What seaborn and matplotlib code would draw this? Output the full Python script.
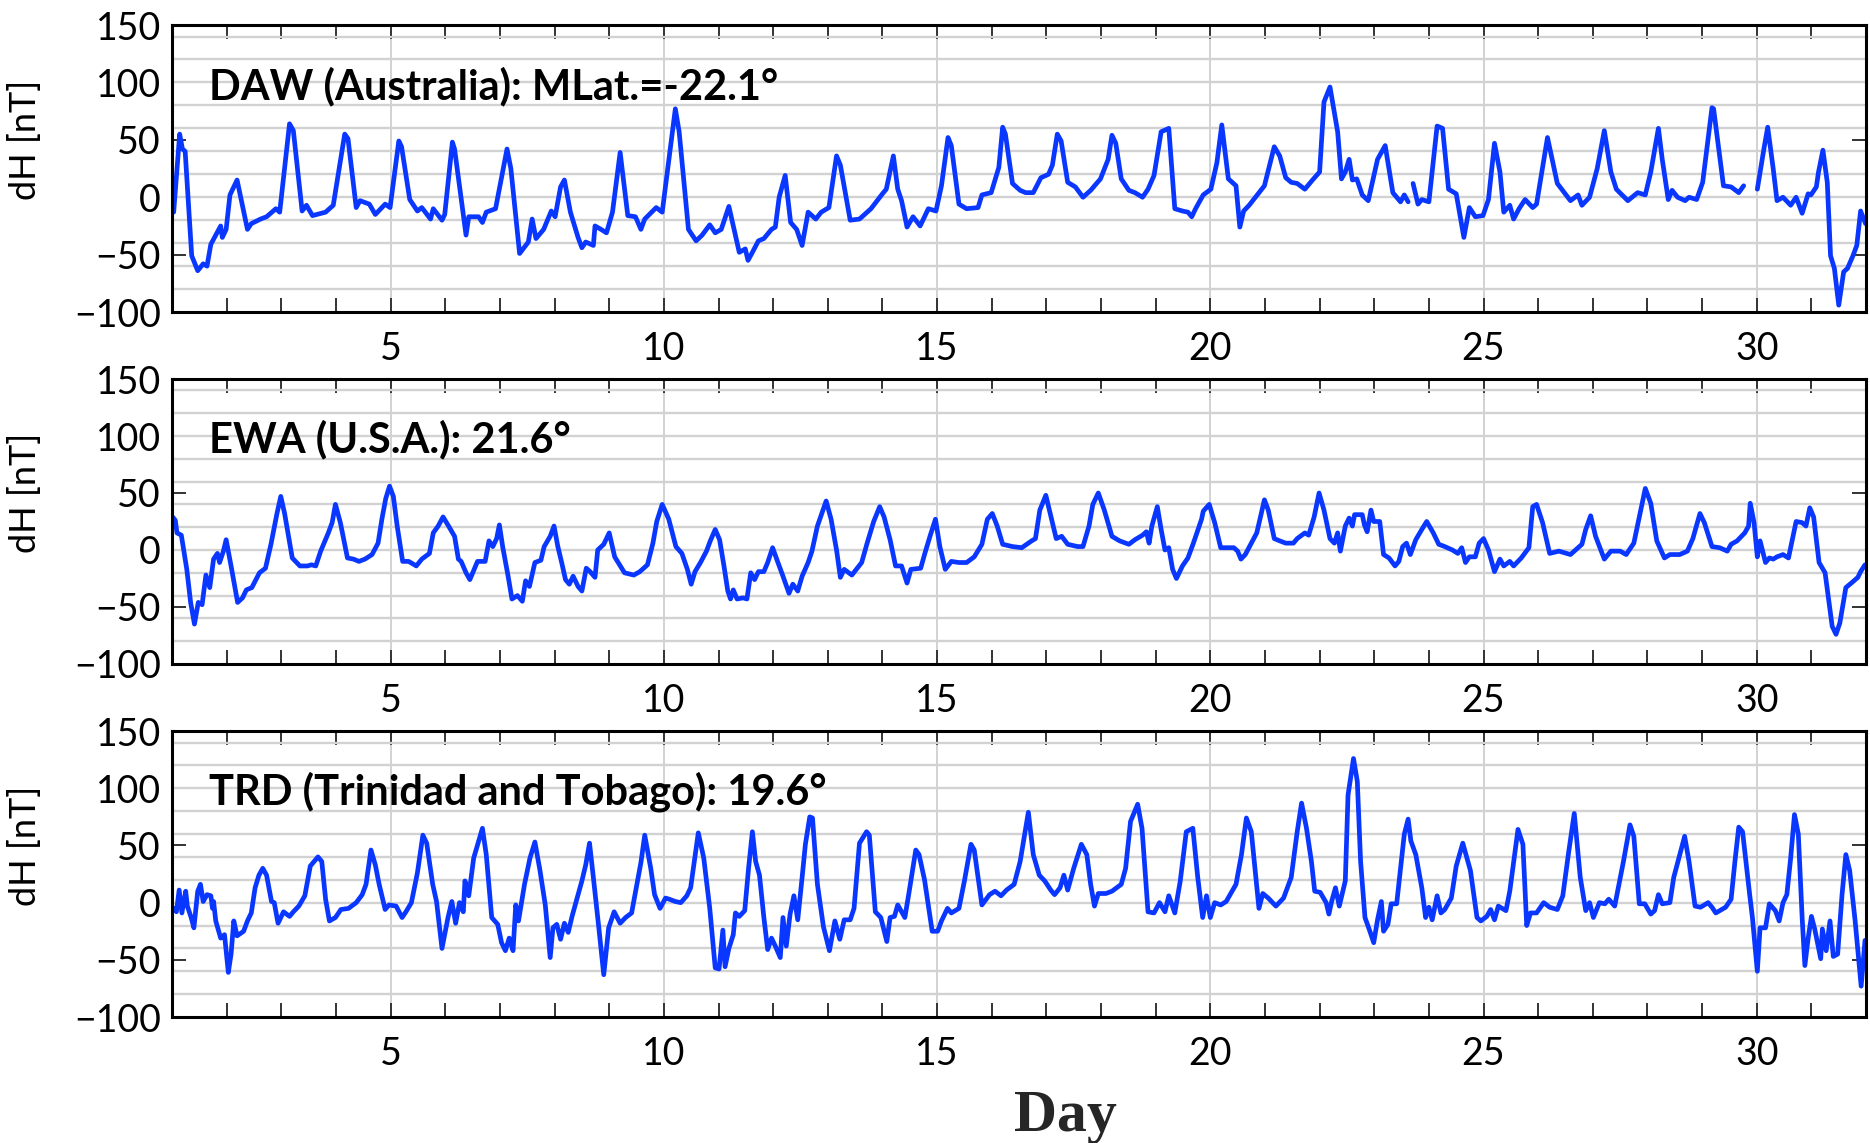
import numpy as np
import pandas as pd
import matplotlib
matplotlib.use("Agg")
import matplotlib.pyplot as plt
from matplotlib.ticker import FixedLocator, MultipleLocator
import seaborn as sns

NaN = float("nan")

# Hourly-ish dH readings (day, nT); NaN marks a data gap
daw = [(1.03,-13),(1.14,55),(1.19,42),(1.24,40),(1.36,-51),(1.47,-64),(1.57,-58),(1.64,-60),(1.71,-41),(1.89,-25),(1.92,-35),(1.99,-28),(2.06,2),(2.19,15),(2.38,-28),(2.45,-23),(2.62,-19),(2.73,-17),(2.90,-10),(2.97,-13),(3.15,64),(3.22,58),(3.38,-12),(3.46,-7),(3.57,-16),(3.81,-13),(3.95,-7),(4.16,55),(4.22,51),(4.37,-9),(4.44,-3),(4.61,-6),(4.72,-15),(4.90,-6),(4.99,-9),(5.15,49),(5.20,44),(5.35,-2),(5.49,-12),(5.57,-9),(5.73,-19),(5.78,-10),(5.94,-20),(5.99,-15),(6.13,48),(6.17,42),(6.26,10),(6.38,-33),(6.43,-17),(6.61,-17),(6.68,-22),(6.75,-13),(6.92,-10),(7.13,42),(7.20,25),(7.36,-49),(7.52,-39),(7.59,-19),(7.66,-36),(7.80,-28),(7.94,-12),(8.01,-17),(8.11,9),(8.18,15),(8.29,-13),(8.43,-35),(8.50,-44),(8.57,-39),(8.71,-42),(8.74,-25),(8.85,-28),(8.95,-31),(9.06,-13),(9.20,39),(9.34,-16),(9.48,-17),(9.58,-28),(9.65,-19),(9.86,-9),(9.97,-13),(10.21,77),(10.28,57),(10.45,-28),(10.59,-38),(10.70,-33),(10.84,-24),(10.94,-31),(11.05,-28),(11.19,-8),(11.38,-48),(11.49,-45),(11.54,-55),(11.62,-48),(11.73,-38),(11.83,-36),(11.97,-28),(12.04,-26),(12.11,0),(12.22,19),(12.32,-22),(12.43,-28),(12.53,-42),(12.64,-13),(12.78,-19),(12.88,-13),(13.02,-9),(13.16,36),(13.23,28),(13.41,-20),(13.58,-19),(13.79,-10),(14.00,3),(14.07,7),(14.20,36),(14.28,7),(14.35,-3),(14.45,-26),(14.56,-17),(14.69,-25),(14.84,-10),(14.98,-12),(15.08,10),(15.20,52),(15.26,45),(15.40,-6),(15.54,-10),(15.75,-9),(15.82,2),(15.99,4),(16.13,26),(16.20,61),(16.25,55),(16.38,12),(16.52,6),(16.62,4),(16.76,4),(16.90,17),(17.04,20),(17.11,28),(17.20,55),(17.27,49),(17.39,13),(17.53,9),(17.67,0),(17.81,6),(17.99,16),(18.13,33),(18.20,54),(18.27,47),(18.37,16),(18.51,6),(18.62,4),(18.76,0),(18.86,7),(18.97,19),(19.10,57),(19.24,60),(19.35,-10),(19.49,-12),(19.59,-13),(19.66,-17),(19.73,-10),(19.87,2),(20.01,7),(20.12,30),(20.21,63),(20.33,16),(20.47,10),(20.54,-26),(20.61,-12),(20.71,-7),(20.89,4),(20.99,10),(21.17,44),(21.27,36),(21.38,17),(21.48,13),(21.59,12),(21.73,7),(21.87,15),(22.00,22),(22.08,83),(22.19,96),(22.33,57),(22.40,16),(22.47,22),(22.54,33),(22.60,15),(22.68,16),(22.78,2),(22.89,-3),(23.06,33),(23.20,45),(23.34,4),(23.48,-4),(23.55,2),(23.62,-4),(23.66,NaN),(23.71,12),(23.80,-6),(23.87,-2),(24.00,-4),(24.15,62),(24.25,60),(24.36,7),(24.50,3),(24.64,-35),(24.74,-9),(24.85,-17),(24.99,-16),(25.09,-2),(25.20,47),(25.30,22),(25.37,-13),(25.48,-7),(25.55,-19),(25.65,-10),(25.76,-2),(25.90,-9),(25.97,-6),(26.17,52),(26.35,12),(26.59,-3),(26.73,2),(26.80,-7),(26.94,0),(27.08,25),(27.21,58),(27.33,22),(27.43,7),(27.64,-3),(27.82,4),(27.96,2),(28.06,22),(28.20,60),(28.27,33),(28.38,-2),(28.45,6),(28.55,0),(28.69,-3),(28.76,0),(28.90,-2),(29.01,13),(29.18,78),(29.21,77),(29.39,10),(29.53,9),(29.67,4),(29.76,10),(29.88,NaN),(30.01,7),(30.13,42),(30.20,61),(30.30,25),(30.37,-3),(30.48,0),(30.62,-7),(30.72,0),(30.83,-14),(30.94,3),(30.99,2),(31.09,9),(31.13,22),(31.21,41),(31.29,13),(31.35,-51),(31.42,-62),(31.50,-94),(31.59,-65),(31.66,-62),(31.76,-51),(31.83,-42),(31.90,-12),(31.99,-23)]

ewa = [(1.01,29),(1.06,26),(1.09,15),(1.17,13),(1.27,-17),(1.34,-46),(1.41,-65),(1.48,-46),(1.55,-48),(1.62,-22),(1.69,-33),(1.76,-8),(1.83,-3),(1.87,-11),(1.94,-1),(1.99,9),(2.08,-14),(2.20,-46),(2.29,-42),(2.36,-35),(2.46,-33),(2.60,-20),(2.71,-16),(2.81,5),(2.92,32),(2.99,47),(3.06,32),(3.20,-7),(3.34,-14),(3.48,-14),(3.55,-13),(3.63,-14),(3.72,-1),(3.86,15),(3.93,24),(3.99,40),(4.08,24),(4.21,-7),(4.32,-8),(4.42,-10),(4.53,-8),(4.66,-4),(4.77,6),(4.84,27),(4.91,45),(4.98,56),(5.05,47),(5.12,21),(5.22,-10),(5.33,-10),(5.47,-14),(5.57,-8),(5.71,-3),(5.78,15),(5.87,21),(5.96,29),(6.06,21),(6.17,12),(6.24,-8),(6.29,-10),(6.38,-20),(6.45,-26),(6.59,-10),(6.73,-10),(6.80,8),(6.87,3),(6.94,10),(6.99,22),(7.05,3),(7.15,-23),(7.22,-43),(7.32,-40),(7.41,-45),(7.47,-27),(7.54,-32),(7.64,-11),(7.75,-9),(7.81,3),(7.92,12),(7.99,21),(8.06,3),(8.13,-11),(8.20,-26),(8.27,-30),(8.34,-23),(8.43,-32),(8.50,-36),(8.58,-16),(8.65,-19),(8.74,-24),(8.79,0),(8.90,5),(9.00,15),(9.10,-6),(9.28,-20),(9.45,-22),(9.56,-19),(9.70,-13),(9.80,6),(9.87,25),(9.97,40),(10.09,27),(10.22,3),(10.33,-3),(10.43,-17),(10.50,-30),(10.57,-19),(10.67,-11),(10.78,-1),(10.85,8),(10.94,18),(11.02,9),(11.10,-14),(11.17,-36),(11.22,-43),(11.27,-35),(11.34,-43),(11.45,-42),(11.52,-43),(11.59,-20),(11.66,-26),(11.73,-19),(11.83,-19),(11.90,-11),(11.99,2),(12.08,-10),(12.18,-23),(12.29,-38),(12.36,-30),(12.45,-36),(12.53,-23),(12.64,-11),(12.71,-1),(12.81,21),(12.97,43),(13.06,27),(13.16,0),(13.23,-24),(13.30,-17),(13.44,-22),(13.62,-11),(13.72,6),(13.84,25),(13.95,38),(14.03,29),(14.14,9),(14.24,-14),(14.35,-14),(14.45,-29),(14.52,-17),(14.70,-16),(14.77,-4),(14.87,12),(14.97,27),(15.05,3),(15.15,-17),(15.26,-10),(15.40,-11),(15.54,-11),(15.68,-6),(15.82,5),(15.92,27),(16.01,32),(16.10,21),(16.20,5),(16.38,3),(16.55,2),(16.73,8),(16.80,10),(16.88,35),(16.99,48),(17.07,32),(17.18,10),(17.28,12),(17.39,5),(17.57,3),(17.67,3),(17.78,21),(17.85,40),(17.95,50),(18.06,35),(18.20,12),(18.34,8),(18.51,5),(18.62,9),(18.76,13),(18.83,16),(18.88,6),(18.93,21),(19.03,38),(19.10,18),(19.17,0),(19.24,2),(19.31,-17),(19.38,-25),(19.49,-14),(19.59,-7),(19.69,6),(19.84,27),(19.87,34),(19.98,40),(20.08,24),(20.19,2),(20.29,2),(20.43,2),(20.50,-1),(20.56,-8),(20.64,-4),(20.75,6),(20.85,15),(20.99,44),(21.06,35),(21.17,10),(21.27,8),(21.38,6),(21.52,6),(21.59,10),(21.73,15),(21.80,13),(21.90,29),(21.99,50),(22.08,35),(22.19,10),(22.27,6),(22.33,15),(22.38,-1),(22.47,21),(22.54,28),(22.60,21),(22.64,31),(22.78,31),(22.82,22),(22.87,16),(22.94,35),(22.99,25),(23.10,25),(23.17,-4),(23.27,-7),(23.38,-14),(23.45,-10),(23.52,3),(23.59,6),(23.66,-4),(23.76,9),(23.87,18),(23.96,25),(24.08,15),(24.18,5),(24.29,3),(24.43,0),(24.53,-3),(24.60,2),(24.67,-11),(24.74,-6),(24.85,-6),(24.92,6),(25.00,10),(25.09,0),(25.20,-19),(25.30,-8),(25.37,-14),(25.48,-10),(25.55,-14),(25.69,-7),(25.83,2),(25.90,38),(25.97,40),(26.08,24),(26.21,-3),(26.38,-1),(26.59,-4),(26.66,-1),(26.80,5),(26.87,18),(26.96,30),(27.05,12),(27.21,-8),(27.33,-1),(27.50,-1),(27.61,-4),(27.75,6),(27.85,29),(27.96,54),(28.06,41),(28.17,8),(28.31,-7),(28.41,-4),(28.59,-4),(28.73,-1),(28.83,10),(28.96,32),(29.04,24),(29.18,3),(29.32,2),(29.46,-1),(29.53,5),(29.64,8),(29.78,15),(29.85,21),(29.88,41),(29.95,24),(30.01,-6),(30.06,8),(30.16,-11),(30.23,-7),(30.30,-8),(30.37,-6),(30.48,-4),(30.58,-7),(30.65,9),(30.72,25),(30.83,24),(30.90,21),(30.97,37),(31.04,29),(31.14,-11),(31.25,-20),(31.38,-67),(31.45,-74),(31.52,-64),(31.63,-33),(31.73,-29),(31.85,-24),(31.90,-19),(31.98,-13)]

trd = [(1.03,-5),(1.08,-8),(1.13,11),(1.18,-9),(1.25,10),(1.28,-3),(1.35,-13),(1.40,-22),(1.47,10),(1.52,16),(1.57,1),(1.64,7),(1.71,6),(1.74,-5),(1.76,1),(1.80,-16),(1.89,-31),(1.96,-28),(1.99,-42),(2.03,-61),(2.08,-45),(2.13,-16),(2.19,-29),(2.31,-25),(2.38,-16),(2.45,-9),(2.52,13),(2.59,24),(2.66,30),(2.73,24),(2.82,1),(2.87,0),(2.94,-18),(3.04,-8),(3.15,-12),(3.22,-8),(3.32,-3),(3.43,6),(3.53,32),(3.60,36),(3.67,40),(3.74,36),(3.81,3),(3.88,-16),(3.99,-13),(4.09,-6),(4.23,-5),(4.37,0),(4.48,7),(4.55,16),(4.64,46),(4.72,33),(4.79,16),(4.90,-6),(4.97,-2),(5.10,-3),(5.21,-13),(5.28,-8),(5.38,0),(5.49,26),(5.59,59),(5.66,52),(5.77,16),(5.84,1),(5.94,-40),(6.05,-13),(6.12,1),(6.19,-18),(6.26,0),(6.33,-8),(6.36,19),(6.43,6),(6.52,39),(6.68,65),(6.75,42),(6.85,-13),(6.96,-19),(7.03,-35),(7.10,-42),(7.17,-31),(7.24,-42),(7.29,-2),(7.34,-16),(7.45,16),(7.55,39),(7.64,53),(7.73,29),(7.83,-2),(7.92,-48),(7.97,-22),(8.04,-19),(8.11,-32),(8.18,-18),(8.25,-26),(8.32,-12),(8.39,0),(8.50,19),(8.57,33),(8.64,52),(8.71,22),(8.81,-22),(8.90,-63),(8.99,-22),(9.09,-8),(9.20,-18),(9.30,-13),(9.41,-9),(9.51,17),(9.58,35),(9.65,59),(9.76,30),(9.83,7),(9.93,-5),(10.03,4),(10.10,3),(10.21,1),(10.31,0),(10.42,6),(10.49,13),(10.63,61),(10.73,39),(10.84,-5),(10.94,-57),(11.01,-58),(11.08,-24),(11.12,-56),(11.19,-40),(11.27,-28),(11.31,-9),(11.38,-12),(11.48,-7),(11.55,30),(11.62,62),(11.68,36),(11.75,24),(11.83,-13),(11.90,-41),(11.97,-31),(12.04,-38),(12.13,-48),(12.18,-13),(12.24,-38),(12.31,-10),(12.38,6),(12.45,-15),(12.53,22),(12.59,51),(12.67,75),(12.72,74),(12.81,16),(12.92,-21),(13.03,-42),(13.13,-16),(13.22,-32),(13.30,-15),(13.41,-15),(13.48,-5),(13.58,52),(13.71,62),(13.76,59),(13.87,-8),(13.97,-13),(14.08,-34),(14.14,-13),(14.22,-12),(14.28,-2),(14.41,-13),(14.48,7),(14.61,46),(14.67,42),(14.77,20),(14.91,-25),(15.01,-25),(15.08,-16),(15.19,-5),(15.26,-9),(15.40,-5),(15.50,19),(15.62,51),(15.68,46),(15.82,-2),(15.96,7),(16.06,10),(16.17,6),(16.27,11),(16.41,16),(16.52,36),(16.67,79),(16.76,42),(16.87,24),(16.97,19),(17.08,11),(17.15,7),(17.25,13),(17.32,24),(17.39,11),(17.50,30),(17.64,51),(17.74,42),(17.81,16),(17.88,-3),(17.95,8),(18.09,8),(18.20,10),(18.37,16),(18.45,30),(18.54,71),(18.67,86),(18.75,65),(18.86,-8),(18.97,-9),(19.07,0),(19.17,-8),(19.24,6),(19.35,-9),(19.45,19),(19.56,62),(19.68,65),(19.77,22),(19.86,-13),(19.93,6),(20.00,-13),(20.08,0),(20.19,-2),(20.29,1),(20.47,16),(20.57,42),(20.66,74),(20.75,62),(20.89,-5),(20.96,8),(21.06,4),(21.20,-3),(21.34,4),(21.48,22),(21.59,62),(21.67,87),(21.76,65),(21.85,36),(21.91,10),(22.01,9),(22.12,0),(22.17,-10),(22.22,1),(22.29,13),(22.36,-3),(22.47,19),(22.52,94),(22.62,126),(22.69,106),(22.75,36),(22.83,-13),(22.92,-25),(22.99,-35),(23.06,-15),(23.13,1),(23.17,-25),(23.25,-19),(23.31,-1),(23.41,-1),(23.55,60),(23.62,73),(23.67,54),(23.76,42),(23.87,13),(23.94,-13),(24.00,-4),(24.06,-15),(24.15,6),(24.22,-9),(24.29,-6),(24.41,4),(24.50,32),(24.62,52),(24.76,28),(24.88,-13),(24.95,-16),(25.06,-12),(25.13,-6),(25.20,-15),(25.27,-3),(25.41,-7),(25.48,10),(25.63,64),(25.72,51),(25.79,-20),(25.86,-9),(25.97,-9),(26.10,0),(26.21,-4),(26.35,-6),(26.45,6),(26.56,45),(26.66,78),(26.77,22),(26.87,-7),(26.94,0),(27.01,-13),(27.12,0),(27.22,-1),(27.29,3),(27.40,-3),(27.47,14),(27.56,36),(27.68,68),(27.75,58),(27.85,-1),(27.95,-1),(28.06,-10),(28.13,-7),(28.20,7),(28.27,-1),(28.41,0),(28.48,22),(28.59,42),(28.68,58),(28.76,36),(28.87,-3),(28.97,-4),(29.11,0),(29.18,-4),(29.25,-9),(29.43,-4),(29.53,3),(29.60,36),(29.67,66),(29.74,62),(29.87,7),(29.92,-13),(30.01,-60),(30.06,-22),(30.16,-22),(30.23,-1),(30.34,-7),(30.41,-16),(30.48,0),(30.55,7),(30.62,39),(30.69,77),(30.76,60),(30.83,-13),(30.88,-55),(30.94,-31),(31.00,-12),(31.06,-23),(31.17,-49),(31.20,-23),(31.27,-42),(31.34,-16),(31.40,-47),(31.48,-45),(31.56,7),(31.63,42),(31.70,28),(31.80,-16),(31.91,-73),(31.98,-33)]

station_labels = [
    "DAW (Australia): MLat.=-22.1°",
    "EWA (U.S.A.): 21.6°",
    "TRD (Trinidad and Tobago): 19.6°",
]
x_ticks = [5, 10, 15, 20, 25, 30]
y_ticks = [-100, -50, 0, 50, 100, 150]
y_grid = [-80, -60, -40, -20, 0, 20, 40, 60, 80, 100, 120, 140]

LINE_BLUE = "#0a37ff"
GRID_GREY = "#d2d2d2"

sns.set_theme(style="white")
plt.rcParams["font.family"] = ["Lato", "DejaVu Sans"]
plt.rcParams["axes.unicode_minus"] = True

fig = plt.figure(figsize=(18.7, 11.43), dpi=100)
boxes = [
    (0.0920, 0.7270, 0.9059, 0.2511),
    (0.0920, 0.4191, 0.9059, 0.2493),
    (0.0920, 0.1102, 0.9059, 0.2502),
]


def to_frame(pairs):
    df = pd.DataFrame(pairs, columns=["day", "dH"])
    # separate runs of valid samples so gaps stay open
    df["seg"] = df["dH"].isna().cumsum()
    return df.dropna()


for box, pairs, label in zip(boxes, [daw, ewa, trd], station_labels):
    ax = fig.add_axes(box)
    df = to_frame(pairs)
    sns.lineplot(data=df, x="day", y="dH", units="seg", estimator=None,
                 color=LINE_BLUE, linewidth=3.4, sort=False, legend=False, ax=ax,
                 solid_joinstyle="round", solid_capstyle="round")
    ax.set_xlim(1, 32)
    ax.set_ylim(-100, 150)

    ax.xaxis.set_major_locator(FixedLocator(x_ticks))
    ax.xaxis.set_minor_locator(MultipleLocator(1))
    ax.yaxis.set_major_locator(FixedLocator(y_ticks))
    ax.yaxis.set_minor_locator(FixedLocator(y_grid))
    ax.yaxis.remove_overlapping_locs = False

    ax.set_axisbelow(True)
    ax.grid(False)
    ax.grid(axis="x", which="major", color=GRID_GREY, linewidth=1.4)
    ax.grid(axis="y", which="minor", color=GRID_GREY, linewidth=1.7)

    ax.tick_params(axis="x", which="both", direction="in", length=10, width=1.4,
                   color="#333333", top=True, bottom=True, labelsize=27, pad=14,
                   labelcolor="black")
    ax.tick_params(axis="y", which="major", direction="in", length=10, width=1.4,
                   color="#333333", left=True, right=True, labelsize=27, pad=8,
                   labelcolor="black")
    ax.tick_params(axis="y", which="minor", length=0, left=False, right=False)

    for sp in ax.spines.values():
        sp.set_linewidth(2.2)
        sp.set_color("black")

    ax.set_xlabel("")
    ax.set_ylabel("dH [nT]", fontsize=26, color="black")
    ax.yaxis.set_label_coords(-0.077, 0.6)

    ax.text(0.022, 0.787, label, transform=ax.transAxes, fontsize=30,
            fontweight="bold", ha="left", va="center", color="black")

fig.text(0.5695, 0.0105, "Day", fontsize=43, fontweight="bold",
         family=["Liberation Serif", "DejaVu Serif"], ha="center", va="baseline")

fig.savefig("out.png", dpi=100)
